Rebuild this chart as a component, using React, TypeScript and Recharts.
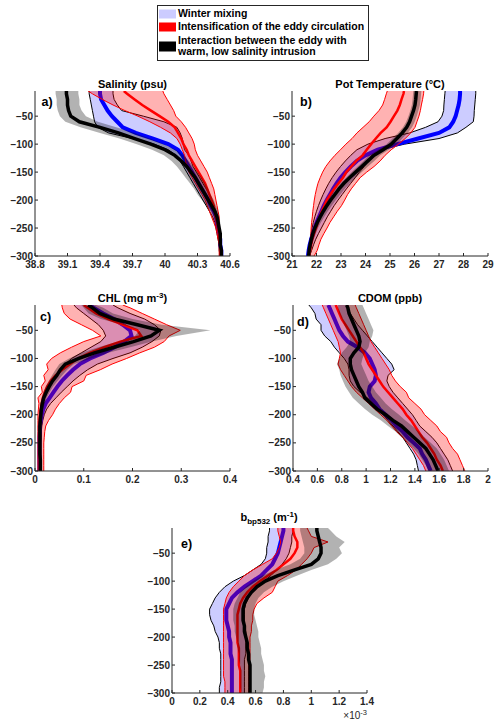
import React from 'react';
import { ComposedChart, Area, Line, XAxis, YAxis } from 'recharts';

const FONT = '"Liberation Sans", Arial, Helvetica, sans-serif';
const AX = '#262626';

// depth levels (m), shared by all panels
const DEPTH = [-5,
  -10, -20, -30, -40, -50, -60, -70, -80, -90, -100,
  -110, -120, -130, -140, -150, -160, -170, -180, -190, -200,
  -210, -220, -230, -240, -250, -260, -270, -280, -290, -300];
const DEPTH_TICKS = [-300, -250, -200, -150, -100, -50];

// ---------- a) Salinity (psu) ----------
const SAL_TICKS = [38.8, 39.1, 39.4, 39.7, 40, 40.3, 40.6];
const SAL_WM = [39.40,
  39.40, 39.41, 39.44, 39.47, 39.51, 39.56, 39.61, 39.73, 39.89, 40.03,
  40.12, 40.16, 40.19, 40.22, 40.25, 40.28, 40.31, 40.34, 40.37, 40.40,
  40.42, 40.45, 40.47, 40.48, 40.49, 40.50, 40.51, 40.51, 40.52, 40.52];
const SAL_WM_LO = [39.30,
  39.30, 39.31, 39.32, 39.33, 39.34, 39.35, 39.38, 39.48, 39.70, 39.90,
  40.03, 40.10, 40.14, 40.17, 40.20, 40.23, 40.26, 40.29, 40.32, 40.35,
  40.38, 40.41, 40.44, 40.46, 40.47, 40.48, 40.49, 40.50, 40.50, 40.51];
const SAL_WM_HI = [39.52,
  39.52, 39.53, 39.56, 39.60, 39.80, 39.99, 40.11, 40.14, 40.16, 40.17,
  40.18, 40.22, 40.24, 40.26, 40.29, 40.32, 40.35, 40.38, 40.41, 40.43,
  40.45, 40.47, 40.48, 40.49, 40.50, 40.51, 40.51, 40.52, 40.52, 40.52];
const SAL_EI = [39.62,
  39.65, 39.72, 39.79, 39.87, 39.95, 40.03, 40.09, 40.12, 40.15, 40.17,
  40.20, 40.22, 40.25, 40.28, 40.31, 40.34, 40.37, 40.39, 40.41, 40.43,
  40.45, 40.46, 40.47, 40.48, 40.49, 40.50, 40.50, 40.51, 40.51, 40.51];
const SAL_EI_LO = [39.29,
  39.33, 39.42, 39.52, 39.63, 39.75, 39.86, 39.96, 40.05, 40.11, 40.14,
  40.16, 40.18, 40.19, 40.20, 40.22, 40.25, 40.28, 40.31, 40.34, 40.37,
  40.39, 40.41, 40.43, 40.45, 40.47, 40.48, 40.49, 40.50, 40.50, 40.50];
const SAL_EI_HI = [39.98,
  39.99, 40.02, 40.05, 40.08, 40.10, 40.15, 40.19, 40.22, 40.25, 40.27,
  40.28, 40.30, 40.33, 40.36, 40.39, 40.41, 40.43, 40.45, 40.46, 40.47,
  40.48, 40.49, 40.50, 40.50, 40.50, 40.51, 40.51, 40.51, 40.51, 40.52];
const SAL_IN = [39.09,
  39.09, 39.10, 39.10, 39.11, 39.13, 39.21, 39.40, 39.57, 39.72, 39.87,
  40.00, 40.09, 40.15, 40.20, 40.24, 40.28, 40.31, 40.34, 40.37, 40.40,
  40.43, 40.46, 40.48, 40.49, 40.50, 40.51, 40.51, 40.51, 40.52, 40.52];
const SAL_IN_LO = [38.99,
  38.99, 39.00, 39.00, 39.01, 39.03, 39.08, 39.22, 39.40, 39.58, 39.74,
  39.88, 39.99, 40.06, 40.11, 40.15, 40.19, 40.23, 40.27, 40.30, 40.34,
  40.38, 40.42, 40.45, 40.47, 40.48, 40.49, 40.50, 40.50, 40.51, 40.51];
const SAL_IN_HI = [39.20,
  39.20, 39.21, 39.21, 39.23, 39.27, 39.38, 39.55, 39.72, 39.86, 39.99,
  40.10, 40.17, 40.22, 40.26, 40.30, 40.34, 40.37, 40.40, 40.42, 40.45,
  40.47, 40.49, 40.50, 40.51, 40.51, 40.52, 40.52, 40.52, 40.53, 40.53];

// ---------- b) Pot Temperature (°C) ----------
const TMP_TICKS = [21, 22, 23, 24, 25, 26, 27, 28, 29];
const TMP_WM = [27.86,
  27.86, 27.84, 27.80, 27.74, 27.68, 27.58, 27.42, 27.00, 26.15, 25.30,
  24.50, 24.00, 23.65, 23.40, 23.18, 22.98, 22.82, 22.68, 22.55, 22.42,
  22.30, 22.20, 22.10, 22.00, 21.92, 21.85, 21.78, 21.72, 21.68, 21.65];
const TMP_WM_LO = [27.25,
  27.24, 27.22, 27.20, 27.19, 27.12, 26.96, 26.45, 25.80, 24.80, 24.10,
  23.65, 23.40, 23.18, 22.98, 22.80, 22.64, 22.50, 22.38, 22.27, 22.17,
  22.08, 22.00, 21.93, 21.87, 21.82, 21.78, 21.74, 21.71, 21.68, 21.65];
const TMP_WM_HI = [28.50,
  28.50, 28.48, 28.46, 28.44, 28.43, 28.40, 28.10, 27.75, 27.00, 25.60,
  24.60, 24.25, 24.12, 23.95, 23.75, 23.58, 23.40, 23.22, 23.05, 22.88,
  22.72, 22.58, 22.44, 22.32, 22.20, 22.08, 21.97, 21.88, 21.80, 21.72];
const TMP_EI = [25.57,
  25.55, 25.47, 25.40, 25.30, 25.16, 25.02, 24.86, 24.62, 24.42, 24.23,
  24.05, 23.88, 23.62, 23.42, 23.22, 23.08, 22.90, 22.72, 22.57, 22.42,
  22.32, 22.22, 22.13, 22.06, 21.98, 21.90, 21.83, 21.78, 21.74, 21.70];
const TMP_EI_LO = [24.89,
  24.85, 24.78, 24.70, 24.55, 24.34, 24.15, 23.90, 23.65, 23.45, 23.20,
  22.98, 22.75, 22.55, 22.38, 22.25, 22.15, 22.06, 22.00, 21.95, 21.91,
  21.88, 21.85, 21.83, 21.80, 21.78, 21.77, 21.76, 21.75, 21.74, 21.72];
const TMP_EI_HI = [26.38,
  26.37, 26.33, 26.28, 26.24, 26.18, 26.10, 26.02, 25.85, 25.62, 25.35,
  25.05, 24.80, 24.60, 24.35, 24.05, 23.78, 23.60, 23.42, 23.27, 23.15,
  23.02, 22.85, 22.70, 22.55, 22.43, 22.30, 22.18, 22.10, 22.03, 21.90];
const TMP_IN = [26.08,
  26.07, 26.05, 26.02, 25.96, 25.88, 25.80, 25.68, 25.50, 25.28, 25.05,
  24.72, 24.35, 24.10, 23.85, 23.60, 23.35, 23.12, 22.92, 22.75, 22.58,
  22.42, 22.28, 22.15, 22.03, 21.93, 21.85, 21.79, 21.74, 21.70, 21.68];
const TMP_IN_LO = [25.95,
  25.94, 25.92, 25.89, 25.83, 25.75, 25.66, 25.53, 25.33, 25.10, 24.86,
  24.52, 24.15, 23.92, 23.68, 23.44, 23.20, 22.98, 22.79, 22.63, 22.47,
  22.32, 22.19, 22.07, 21.96, 21.87, 21.80, 21.75, 21.71, 21.67, 21.65];
const TMP_IN_HI = [26.28,
  26.27, 26.25, 26.22, 26.16, 26.09, 26.01, 25.90, 25.72, 25.50, 25.28,
  24.95, 24.60, 24.36, 24.10, 23.85, 23.60, 23.36, 23.15, 22.97, 22.79,
  22.62, 22.46, 22.32, 22.18, 22.06, 21.97, 21.89, 21.82, 21.76, 21.72];

// ---------- c) CHL (mg m-3) ----------
const CHL_TICKS = [0, 0.1, 0.2, 0.3, 0.4];
const CHL_WM = [0.112,
  0.120, 0.140, 0.162, 0.180, 0.195, 0.198, 0.183, 0.163, 0.140, 0.113,
  0.092, 0.078, 0.066, 0.055, 0.046, 0.038, 0.030, 0.022, 0.017, 0.014,
  0.012, 0.010, 0.010, 0.009, 0.009, 0.009, 0.009, 0.009, 0.009, 0.009];
const CHL_WM_LO = [0.080,
  0.085, 0.100, 0.115, 0.130, 0.140, 0.145, 0.135, 0.115, 0.095, 0.075,
  0.062, 0.052, 0.044, 0.036, 0.029, 0.023, 0.018, 0.014, 0.011, 0.009,
  0.008, 0.007, 0.007, 0.007, 0.007, 0.007, 0.007, 0.007, 0.007, 0.007];
const CHL_WM_HI = [0.160,
  0.170, 0.195, 0.225, 0.245, 0.258, 0.255, 0.240, 0.220, 0.195, 0.160,
  0.128, 0.108, 0.092, 0.078, 0.066, 0.054, 0.043, 0.032, 0.024, 0.019,
  0.016, 0.014, 0.013, 0.013, 0.012, 0.012, 0.012, 0.012, 0.012, 0.012];
const CHL_EI = [0.100,
  0.108, 0.125, 0.150, 0.180, 0.210, 0.218, 0.175, 0.142, 0.112, 0.088,
  0.072, 0.056, 0.042, 0.032, 0.025, 0.020, 0.016, 0.014, 0.012, 0.011,
  0.010, 0.010, 0.010, 0.010, 0.010, 0.010, 0.010, 0.010, 0.010, 0.010];
const CHL_EI_LO = [0.055,
  0.056, 0.060, 0.072, 0.095, 0.118, 0.135, 0.100, 0.075, 0.052, 0.034,
  0.024, 0.027, 0.018, 0.021, 0.013, 0.015, 0.006, 0.008, 0.007, 0.006,
  0.006, 0.006, 0.006, 0.006, 0.006, 0.006, 0.006, 0.006, 0.006, 0.006];
const CHL_EI_HI = [0.180,
  0.195, 0.220, 0.245, 0.270, 0.298, 0.275, 0.265, 0.245, 0.215, 0.188,
  0.158, 0.134, 0.105, 0.100, 0.076, 0.073, 0.060, 0.050, 0.042, 0.036,
  0.028, 0.022, 0.020, 0.019, 0.018, 0.018, 0.018, 0.018, 0.018, 0.018];
const CHL_IN = [0.109,
  0.118, 0.133, 0.162, 0.210, 0.255, 0.238, 0.202, 0.162, 0.122, 0.090,
  0.062, 0.052, 0.045, 0.036, 0.029, 0.023, 0.018, 0.015, 0.013, 0.012,
  0.011, 0.010, 0.010, 0.010, 0.010, 0.010, 0.010, 0.011, 0.011, 0.011];
const CHL_IN_LO = [0.095,
  0.100, 0.110, 0.135, 0.180, 0.215, 0.205, 0.170, 0.130, 0.095, 0.070,
  0.050, 0.042, 0.035, 0.028, 0.022, 0.017, 0.014, 0.011, 0.010, 0.009,
  0.008, 0.008, 0.008, 0.008, 0.008, 0.008, 0.008, 0.009, 0.009, 0.009];
const CHL_IN_HI = [0.125,
  0.140, 0.160, 0.200, 0.260, 0.360, 0.290, 0.240, 0.195, 0.150, 0.115,
  0.080, 0.066, 0.056, 0.046, 0.037, 0.030, 0.024, 0.020, 0.017, 0.015,
  0.014, 0.014, 0.014, 0.014, 0.014, 0.014, 0.014, 0.014, 0.014, 0.014];

// ---------- d) CDOM (ppb) ----------
const CD_TICKS = [0.4, 0.6, 0.8, 1, 1.2, 1.4, 1.6, 1.8, 2];
const CD_WM = [0.69,
  0.70, 0.72, 0.74, 0.76, 0.78, 0.81, 0.85, 0.93, 0.99, 1.03,
  1.05, 1.07, 1.08, 1.07, 1.03, 1.02, 1.04, 1.08, 1.11, 1.16,
  1.21, 1.25, 1.30, 1.34, 1.39, 1.44, 1.46, 1.49, 1.51, 1.53];
const CD_WM_LO = [0.53,
  0.55, 0.58, 0.59, 0.63, 0.63, 0.66, 0.71, 0.74, 0.78, 0.82,
  0.85, 0.86, 0.86, 0.87, 0.90, 0.95, 1.01, 1.06, 1.10, 1.14,
  1.18, 1.22, 1.26, 1.30, 1.33, 1.36, 1.39, 1.41, 1.42, 1.43];
const CD_WM_HI = [0.84,
  0.85, 0.87, 0.90, 0.93, 0.97, 1.01, 1.05, 1.09, 1.13, 1.17,
  1.21, 1.23, 1.18, 1.17, 1.19, 1.22, 1.26, 1.30, 1.34, 1.38,
  1.41, 1.44, 1.49, 1.54, 1.58, 1.61, 1.64, 1.67, 1.69, 1.71];
const CD_EI = [0.75,
  0.76, 0.78, 0.80, 0.83, 0.86, 0.89, 0.92, 0.95, 0.98, 1.00,
  1.02, 1.05, 1.08, 1.11, 1.14, 1.18, 1.22, 1.26, 1.30, 1.33,
  1.37, 1.40, 1.43, 1.46, 1.50, 1.53, 1.56, 1.58, 1.61, 1.63];
const CD_EI_LO = [0.64,
  0.65, 0.67, 0.69, 0.71, 0.73, 0.75, 0.77, 0.78, 0.79, 0.78,
  0.77, 0.79, 0.82, 0.85, 0.88, 0.92, 0.97, 1.02, 1.07, 1.12,
  1.17, 1.21, 1.25, 1.30, 1.34, 1.38, 1.41, 1.44, 1.47, 1.49];
const CD_EI_HI = [0.91,
  0.92, 0.94, 0.96, 0.98, 1.00, 1.02, 1.04, 1.07, 1.10, 1.13,
  1.16, 1.19, 1.21, 1.24, 1.28, 1.33, 1.35, 1.40, 1.45, 1.48,
  1.53, 1.58, 1.61, 1.66, 1.68, 1.71, 1.75, 1.77, 1.79, 1.81];
const CD_IN = [0.84,
  0.85, 0.86, 0.88, 0.90, 0.92, 0.94, 0.95, 0.94, 0.90, 0.87,
  0.87, 0.88, 0.90, 0.92, 0.94, 0.97, 0.99, 1.04, 1.09, 1.16,
  1.22, 1.29, 1.34, 1.39, 1.44, 1.49, 1.52, 1.55, 1.57, 1.59];
const CD_IN_LO = [0.77,
  0.77, 0.78, 0.80, 0.82, 0.84, 0.86, 0.87, 0.84, 0.80, 0.78,
  0.76, 0.78, 0.79, 0.81, 0.83, 0.86, 0.89, 0.94, 0.99, 1.05,
  1.12, 1.18, 1.24, 1.29, 1.34, 1.39, 1.43, 1.46, 1.49, 1.51];
const CD_IN_HI = [0.97,
  0.98, 1.00, 1.02, 1.04, 1.06, 1.05, 1.03, 1.02, 0.99, 0.97,
  0.96, 0.98, 1.00, 1.02, 1.05, 1.08, 1.12, 1.16, 1.21, 1.27,
  1.32, 1.38, 1.43, 1.48, 1.53, 1.58, 1.61, 1.64, 1.66, 1.68];

// ---------- e) b_bp532 (m-1), values in 10^-3 ----------
const BBP_TICKS = [0, 0.2, 0.4, 0.6, 0.8, 1, 1.2, 1.4];
const BBP_WM = [0.80,
  0.80, 0.79, 0.78, 0.77, 0.76, 0.74, 0.72, 0.68, 0.64, 0.58,
  0.52, 0.47, 0.43, 0.41, 0.39, 0.39, 0.39, 0.40, 0.41, 0.41,
  0.42, 0.42, 0.42, 0.43, 0.43, 0.43, 0.43, 0.43, 0.43, 0.43];
const BBP_WM_LO = [0.70,
  0.70, 0.69, 0.69, 0.68, 0.68, 0.67, 0.64, 0.58, 0.52, 0.44,
  0.38, 0.34, 0.31, 0.29, 0.27, 0.27, 0.28, 0.30, 0.31, 0.33,
  0.34, 0.34, 0.35, 0.35, 0.35, 0.35, 0.35, 0.35, 0.34, 0.34];
const BBP_WM_HI = [0.87,
  0.87, 0.86, 0.86, 0.85, 0.84, 0.82, 0.79, 0.75, 0.71, 0.66,
  0.61, 0.57, 0.55, 0.53, 0.52, 0.52, 0.52, 0.52, 0.53, 0.53,
  0.53, 0.53, 0.53, 0.52, 0.52, 0.52, 0.52, 0.52, 0.52, 0.52];
const BBP_EI = [0.87,
  0.87, 0.88, 0.90, 0.90, 0.88, 0.85, 0.80, 0.75, 0.69, 0.63,
  0.58, 0.54, 0.51, 0.49, 0.48, 0.47, 0.47, 0.47, 0.47, 0.47,
  0.47, 0.48, 0.48, 0.48, 0.48, 0.49, 0.49, 0.49, 0.49, 0.49];
const BBP_EI_LO = [0.76,
  0.76, 0.77, 0.78, 0.77, 0.75, 0.72, 0.65, 0.58, 0.52, 0.48,
  0.44, 0.41, 0.39, 0.38, 0.37, 0.37, 0.37, 0.37, 0.37, 0.37,
  0.37, 0.37, 0.37, 0.37, 0.37, 0.37, 0.37, 0.38, 0.38, 0.38];
const BBP_EI_HI = [0.97,
  0.98, 1.00, 1.12, 1.02, 1.00, 0.97, 0.93, 0.89, 0.83, 0.76,
  0.74, 0.72, 0.66, 0.61, 0.59, 0.58, 0.58, 0.57, 0.57, 0.56,
  0.56, 0.56, 0.56, 0.56, 0.55, 0.55, 0.55, 0.55, 0.55, 0.55];
const BBP_IN = [1.04,
  1.04, 1.05, 1.06, 1.07, 1.07, 1.05, 1.00, 0.88, 0.76, 0.67,
  0.61, 0.57, 0.54, 0.52, 0.51, 0.51, 0.51, 0.52, 0.52, 0.53,
  0.54, 0.54, 0.55, 0.55, 0.56, 0.56, 0.56, 0.56, 0.56, 0.56];
const BBP_IN_LO = [0.92,
  0.92, 0.93, 0.94, 0.95, 0.95, 0.92, 0.85, 0.74, 0.65, 0.58,
  0.53, 0.49, 0.47, 0.45, 0.44, 0.44, 0.44, 0.45, 0.45, 0.46,
  0.47, 0.47, 0.48, 0.48, 0.49, 0.49, 0.49, 0.49, 0.49, 0.50];
const BBP_IN_HI = [1.12,
  1.14, 1.18, 1.24, 1.20, 1.22, 1.18, 1.12, 1.00, 0.90, 0.80,
  0.72, 0.66, 0.62, 0.60, 0.59, 0.59, 0.60, 0.61, 0.62, 0.62,
  0.63, 0.64, 0.64, 0.65, 0.66, 0.66, 0.67, 0.66, 0.66, 0.65];

type Row = { d: number; wm: number; wmBand: number[]; ei: number; eiBand: number[]; inn: number; inBand: number[] };

function buildRows(
  wm: number[], wmLo: number[], wmHi: number[],
  ei: number[], eiLo: number[], eiHi: number[],
  inn: number[], inLo: number[], inHi: number[],
): Row[] {
  return DEPTH.map((d, i) => ({
    d,
    wm: wm[i], wmBand: [wmLo[i], wmHi[i]],
    ei: ei[i], eiBand: [eiLo[i], eiHi[i]],
    inn: inn[i], inBand: [inLo[i], inHi[i]],
  }));
}

const tickStyle = { fontSize: 10, fontWeight: 700, fill: AX, fontFamily: FONT };
const fmtNum = (v: number) => String(v).replace('-', '\u2212');

function Panel(props: { rows: Row[]; domain: number[]; ticks: number[]; left: number; top: number; w: number; h: number }) {
  const { rows, domain, ticks, left, top, w, h } = props;
  const L = 34, R = 14, T = 4, B = 20;
  return (
    <div style={{ position: 'absolute', left: left - L, top: top - T }}>
      <ComposedChart
        layout="vertical"
        width={w + L + R}
        height={h + T + B}
        data={rows}
        margin={{ top: T, right: R, bottom: 0, left: 0 }}
      >
        <XAxis xAxisId="b" type="number" orientation="bottom" domain={domain} ticks={ticks} interval={0}
          allowDataOverflow height={B} tickSize={-3} tickMargin={8}
          axisLine={{ stroke: AX }} tickLine={{ stroke: AX }} tick={tickStyle} tickFormatter={fmtNum} />
        <XAxis xAxisId="t" type="number" orientation="top" domain={domain} ticks={ticks} interval={0}
          allowDataOverflow height={0} tickSize={-3} tick={false}
          axisLine={{ stroke: AX }} tickLine={{ stroke: AX }} />
        <YAxis yAxisId="l" type="number" dataKey="d" domain={[-300, -5]} ticks={DEPTH_TICKS} interval={0} reversed
          allowDataOverflow width={L} tickSize={-3} tickMargin={5}
          axisLine={{ stroke: AX }} tickLine={{ stroke: AX }} tick={tickStyle} tickFormatter={fmtNum} />
        <YAxis yAxisId="r" type="number" orientation="right" dataKey="d" domain={[-300, -5]} ticks={DEPTH_TICKS} interval={0} reversed
          allowDataOverflow width={0} tickSize={-3} tick={false}
          axisLine={{ stroke: AX }} tickLine={{ stroke: AX }} />

        <Area xAxisId="b" yAxisId="l" type="linear" dataKey="wmBand" fill="#0000ff" fillOpacity={0.2}
          stroke="#000000" strokeWidth={1} dot={false} activeDot={false} isAnimationActive={false} zIndex={100} />
        <Line xAxisId="b" yAxisId="l" type="linear" dataKey="wm" stroke="#0000ff" strokeWidth={4}
          dot={false} activeDot={false} isAnimationActive={false} zIndex={101} />
        <Area xAxisId="b" yAxisId="l" type="linear" dataKey="eiBand" fill="#ff0000" fillOpacity={0.3}
          stroke="#ff0000" strokeWidth={1} dot={false} activeDot={false} isAnimationActive={false} zIndex={102} />
        <Line xAxisId="b" yAxisId="l" type="linear" dataKey="ei" stroke="#ff0000" strokeWidth={2.5}
          dot={false} activeDot={false} isAnimationActive={false} zIndex={103} />
        <Area xAxisId="b" yAxisId="l" type="linear" dataKey="inBand" fill="#000000" fillOpacity={0.3}
          stroke="none" dot={false} activeDot={false} isAnimationActive={false} zIndex={104} />
        <Line xAxisId="b" yAxisId="l" type="linear" dataKey="inn" stroke="#000000" strokeWidth={3.5}
          dot={false} activeDot={false} isAnimationActive={false} zIndex={105} />
      </ComposedChart>
    </div>
  );
}

const SAL_ROWS = buildRows(SAL_WM, SAL_WM_LO, SAL_WM_HI, SAL_EI, SAL_EI_LO, SAL_EI_HI, SAL_IN, SAL_IN_LO, SAL_IN_HI);
const TMP_ROWS = buildRows(TMP_WM, TMP_WM_LO, TMP_WM_HI, TMP_EI, TMP_EI_LO, TMP_EI_HI, TMP_IN, TMP_IN_LO, TMP_IN_HI);
const CHL_ROWS = buildRows(CHL_WM, CHL_WM_LO, CHL_WM_HI, CHL_EI, CHL_EI_LO, CHL_EI_HI, CHL_IN, CHL_IN_LO, CHL_IN_HI);
const CD_ROWS = buildRows(CD_WM, CD_WM_LO, CD_WM_HI, CD_EI, CD_EI_LO, CD_EI_HI, CD_IN, CD_IN_LO, CD_IN_HI);
const BBP_ROWS = buildRows(BBP_WM, BBP_WM_LO, BBP_WM_HI, BBP_EI, BBP_EI_LO, BBP_EI_HI, BBP_IN, BBP_IN_LO, BBP_IN_HI);

const LEGEND_LABELS = ['Winter mixing', 'Intensification of the eddy circulation', 'Interaction between the eddy with', 'warm, low salinity intrusion'];

export default function App() {
  return (
    <div style={{ position: 'absolute', left: 0, top: 0, width: 495, height: 725, background: '#ffffff', overflow: 'hidden' }}>
      <Panel rows={SAL_ROWS} domain={[38.8, 40.6]} ticks={SAL_TICKS} left={35} top={91} w={195} h={165} />
      <Panel rows={TMP_ROWS} domain={[21, 29]} ticks={TMP_TICKS} left={292} top={91} w={196} h={165} />
      <Panel rows={CHL_ROWS} domain={[0, 0.4]} ticks={CHL_TICKS} left={35} top={305} w={195} h={166} />
      <Panel rows={CD_ROWS} domain={[0.4, 2]} ticks={CD_TICKS} left={293} top={305} w={195} h={166} />
      <Panel rows={BBP_ROWS} domain={[0, 1.4]} ticks={BBP_TICKS} left={172} top={528} w={195} h={165} />

      <svg width={495} height={725} style={{ position: 'absolute', left: 0, top: 0, pointerEvents: 'none' }} fontFamily={FONT}>
        {/* legend */}
        <rect x={157.5} y={5.5} width={211} height={55} fill="#ffffff" stroke={AX} strokeWidth={1} />
        <rect x={159} y={9.5} width={17} height={9} fill="#ccccff" />
        <rect x={159} y={22.5} width={17} height={9} fill="#ff0000" />
        <rect x={159} y={41.5} width={17} height={10} fill="#000000" />
        <g fontSize={10.5} fontWeight={700} fill="#000000">
          <text x={178} y={17}>{LEGEND_LABELS[0]}</text>
          <text x={178} y={30}>{LEGEND_LABELS[1]}</text>
          <text x={178} y={43.5}>{LEGEND_LABELS[2]}</text>
          <text x={178} y={54.5}>{LEGEND_LABELS[3]}</text>
        </g>

        {/* titles */}
        <g fontSize={11} fontWeight={700} fill="#000000" textAnchor="middle">
          <text x={132.5} y={87.5}>Salinity (psu)</text>
          <text x={390} y={87.5}>Pot Temperature (°C)</text>
          <text x={132.5} y={302}>CHL (mg m<tspan dy={-4} fontSize={8}>-3</tspan><tspan dy={4}>)</tspan></text>
          <text x={390} y={302}>CDOM (ppb)</text>
          <text x={269} y={520.5}>b<tspan dy={3} fontSize={8}>bp532</tspan><tspan dy={-3}> (m</tspan><tspan dy={-4} fontSize={8}>-1</tspan><tspan dy={4}>)</tspan></text>
        </g>

        {/* panel labels */}
        <g fontSize={12.5} fontWeight={700} fill="#000000">
          <text x={41.5} y={105.5}>a)</text>
          <text x={300} y={105.5}>b)</text>
          <text x={40} y={321}>c)</text>
          <text x={297} y={326}>d)</text>
          <text x={181} y={548}>e)</text>
        </g>

        <text x={367} y={719} textAnchor="end" fontSize={10} fill={AX}>×10<tspan dy={-4} fontSize={7.5}>-3</tspan></text>
      </svg>
    </div>
  );
}
